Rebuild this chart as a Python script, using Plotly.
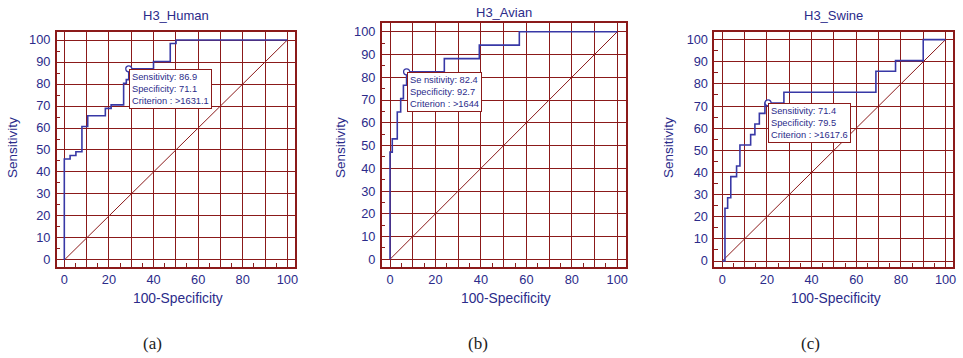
import plotly.graph_objects as go

W, H = 963, 358

# ---------------- data ----------------
titles = ["H3_Human", "H3_Avian", "H3_Swine"]
captions = ["(a)", "(b)", "(c)"]

fpr_a = [0, 0, 2.6, 5.2, 7.9, 10.5, 18.4, 21.0, 26.6, 27.8, 28.9, 40.0, 47.5, 50.1, 100]
sens_a = [0, 45.9, 47.5, 49.2, 60.7, 65.6, 68.9, 70.5, 80.3, 82.0, 86.9, 90.2, 98.4, 100, 100]

fpr_b = [0, 0, 1.0, 3.2, 4.7, 5.9, 7.3, 23.9, 39.3, 56.9, 100]
sens_b = [0, 47.1, 52.9, 64.7, 70.6, 76.5, 82.4, 88.2, 94.1, 100, 100]

fpr_c = [0, 1.2, 2.4, 3.8, 6.4, 7.9, 12.7, 14.6, 16.6, 19.1, 27.6, 68.8, 77.6, 90.0, 100]
sens_c = [0, 23.8, 28.6, 38.1, 42.9, 52.4, 57.1, 61.9, 66.7, 71.4, 76.2, 85.7, 90.5, 100, 100]

opt_sens = [86.9, 82.4, 71.4]
opt_spec = [71.1, 92.7, 79.5]
criteria = [">1631.1", ">1644", ">1617.6"]
sens_labels = ["Sensitivity", "Se nsitivity", "Sensitivity"]

diag = [0, 100]
grid_vals = [0, 10, 20, 30, 40, 50, 60, 70, 80, 90, 100]
x_tick_text = ["0", "", "20", "", "40", "", "60", "", "80", "", "100"]
y_tick_text = ["0", "10", "20", "30", "40", "50", "60", "70", "80", "90", "100"]

# ---------------- styling ----------------
NAVY = "#2B2B8A"
CURVE = "#3838A6"
RED = "#8B1A1A"
FONT = "Liberation Sans, Arial, sans-serif"

# panel frames in pixels: (left, right, top, bottom)
frames = [(56.7, 294.7, 32.3, 266.7), (381.7, 625.7, 23.3, 266.7), (714.3, 952.7, 32.3, 266.7)]
xranges = [[-3.41, 103.3], [-3.65, 103.7], [-3.58, 103.2]]
yranges = [[-3.05, 103.5], [-3.25, 103.7], [-2.57, 103.3]]

curves = [(fpr_a, sens_a), (fpr_b, sens_b), (fpr_c, sens_c)]

fig = go.Figure()
annotations = []
for i in range(3):
    xa = "x" if i == 0 else f"x{i+1}"
    ya = "y" if i == 0 else f"y{i+1}"
    fx, fy = curves[i]
    # diagonal
    fig.add_trace(go.Scatter(x=diag, y=diag, mode="lines", xaxis=xa, yaxis=ya,
                             line=dict(color=RED, width=1), showlegend=False, hoverinfo="skip"))
    # ROC curve
    fig.add_trace(go.Scatter(x=fx, y=fy, mode="lines", xaxis=xa, yaxis=ya, line_shape="hv",
                             line=dict(color=CURVE, width=1.6), showlegend=False))
    # optimal point
    mx = round(100 - opt_spec[i], 1)
    fig.add_trace(go.Scatter(x=[mx], y=[opt_sens[i]], mode="markers", xaxis=xa, yaxis=ya,
                             marker=dict(symbol="circle", size=6, color="white",
                                         line=dict(color=CURVE, width=1.3)),
                             showlegend=False))
    annotations.append(dict(
        x=mx, y=opt_sens[i], xref=xa, yref=ya, xanchor="left", yanchor="top",
        text=f"{sens_labels[i]}: {opt_sens[i]}<br>Specificity: {opt_spec[i]}<br>Criterion : {criteria[i]}",
        showarrow=False, align="left", bgcolor="white", bordercolor=RED, borderwidth=1,
        borderpad=2, font=dict(size=9.3, color=NAVY, family=FONT)))

    l, r, t, b = frames[i]
    dom_x = [l / W, r / W]
    dom_y = [1 - b / H, 1 - t / H]
    axis_common = dict(
        showline=True, linecolor=RED, linewidth=1.5, mirror=True,
        showgrid=True, gridcolor=RED, gridwidth=1.1,
        tickvals=grid_vals, ticks="", zeroline=False, automargin=False,
        tickfont=dict(size=12.8, color=NAVY, family=FONT),
        minor=dict(ticks="inside", tick0=5, dtick=10, ticklen=4, tickcolor=RED,
                   tickwidth=1, showgrid=False),
        fixedrange=True,
    )
    xkey = "xaxis" if i == 0 else f"xaxis{i+1}"
    ykey = "yaxis" if i == 0 else f"yaxis{i+1}"
    fig.update_layout(**{
        xkey: dict(domain=dom_x, range=xranges[i], anchor=ya, ticktext=x_tick_text,
                   ticklabelstandoff=0, **axis_common),
        ykey: dict(domain=dom_y, range=yranges[i], anchor=xa, ticktext=y_tick_text,
                   ticklabelstandoff=2, **axis_common),
    })

    cx = (l + r) / 2
    # panel title
    ty = [15, 13, 15][i]
    annotations.append(dict(x=cx / W, y=1 - ty / H, xref="paper", yref="paper",
                            text=titles[i], showarrow=False, xanchor="center", yanchor="middle",
                            font=dict(size=13, color=NAVY, family=FONT)))
    # x axis title
    annotations.append(dict(x=(cx + 2) / W, y=1 - 298 / H, xref="paper", yref="paper",
                            text="100-Specificity", showarrow=False, xanchor="center", yanchor="middle",
                            font=dict(size=13.8, color=NAVY, family=FONT)))
    # y axis title
    ytx = [12, 340, 668][i]
    annotations.append(dict(x=ytx / W, y=1 - 148 / H, xref="paper", yref="paper",
                            text="Sensitivity", showarrow=False, textangle=-90,
                            xanchor="center", yanchor="middle",
                            font=dict(size=13.5, color=NAVY, family=FONT)))
    # caption
    capx = [152, 478, 810][i]
    annotations.append(dict(x=capx / W, y=1 - 343 / H, xref="paper", yref="paper",
                            text=captions[i], showarrow=False, xanchor="center", yanchor="middle",
                            font=dict(size=17, color="#222222", family="Liberation Serif, serif")))

fig.update_layout(
    width=W, height=H, margin=dict(l=0, r=0, t=0, b=0, autoexpand=False),
    paper_bgcolor="white", plot_bgcolor="white",
    annotations=annotations, showlegend=False,
)

fig.write_html("out.html", config={"displayModeBar": False},
               post_script="document.body.style.margin='0';document.body.style.overflow='hidden';")
